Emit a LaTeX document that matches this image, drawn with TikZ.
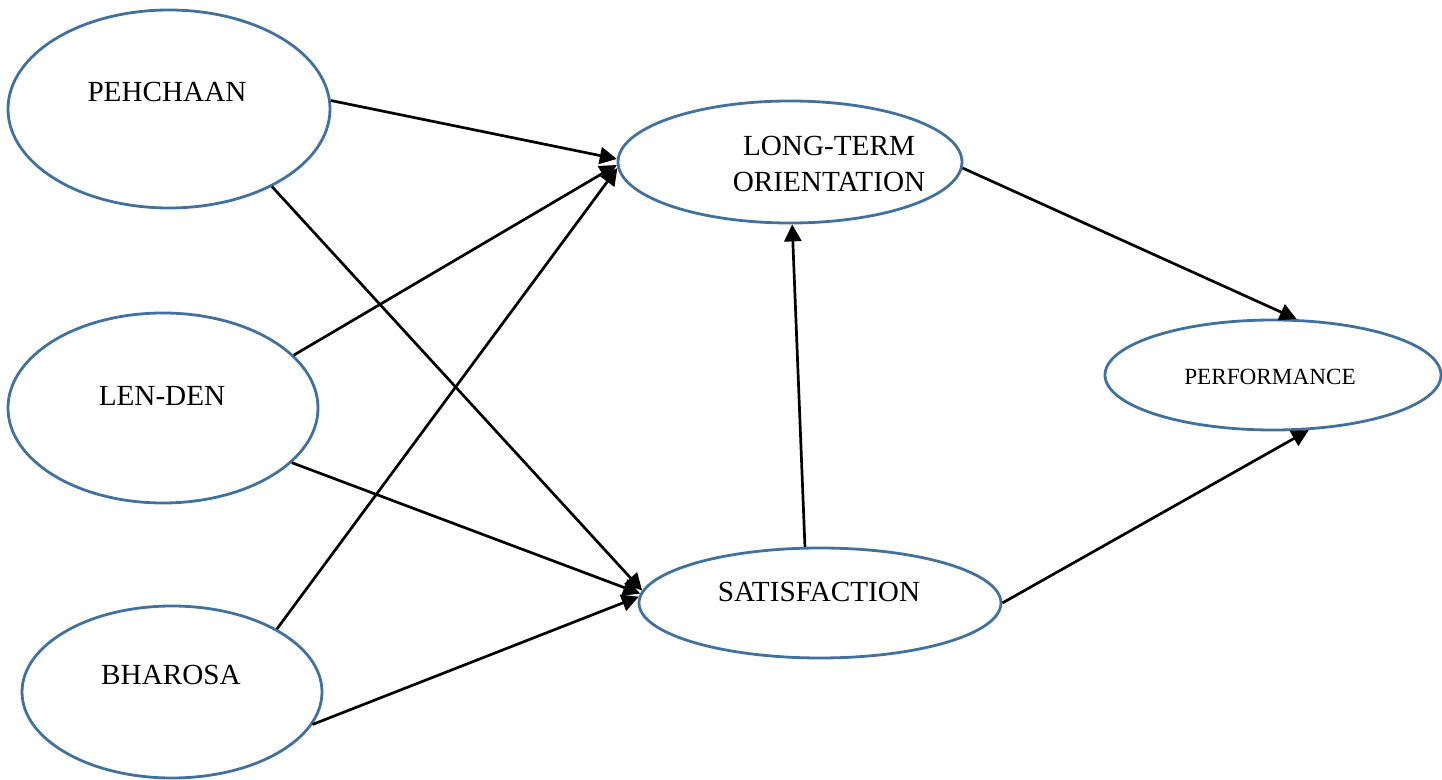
\documentclass[tikz,border=0pt]{standalone}
\usepackage{fontspec}
\setmainfont{Liberation Serif}
\usetikzlibrary{arrows.meta, shapes.geometric, positioning}
\definecolor{wdBlue}{HTML}{41719C}
\tikzset{
  construct/.style = {ellipse, draw=wdBlue, line width=1.4pt, inner sep=0pt},
  link/.style      = {-{Triangle[length=8.5pt, width=8.5pt]}, line width=1.35pt, black},
  lbl/.style       = {font=\fontsize{14.6}{18}\selectfont, align=center, inner sep=0pt},
  slbl/.style      = {font=\fontsize{11.6}{14}\selectfont, inner sep=0pt},
}

\begin{document}
\begin{tikzpicture}[x=0.5pt,y=-0.5pt]
  \useasboundingbox (0,0) rectangle (1442,780);
  % constructs
  \node[construct, minimum width=161pt, minimum height=99pt] (pe)   at (169,109) {};
  \node[construct, minimum width=155pt, minimum height=95pt] (ld)   at (163,408) {};
  \node[construct, minimum width=150pt, minimum height=86pt] (bh)   at (172,692) {};
  \node[construct, minimum width=172pt, minimum height=61pt] (lto)  at (790,162) {};
  \node[construct, minimum width=181pt, minimum height=55pt] (sat)  at (820,603) {};
  \node[construct, minimum width=168pt, minimum height=55pt] (perf) at (1273,375) {};
  % labels
  \node[lbl]  (pe-t)   at (167,92)  {PEHCHAAN};
  \node[lbl]  (ld-t)   at (162,396) {LEN-DEN};
  \node[lbl]  (bh-t)   at (171,675) {BHAROSA};
  \node[lbl]  (lto-t)  at (829,164) {LONG-TERM\\ORIENTATION};
  \node[lbl]  (sat-t)  at (819,592) {SATISFACTION};
  \node[slbl] (perf-t) at (1270,377) {PERFORMANCE};
  % paths
  \draw[link] (pe.3)   -- (lto.179);
  \draw[link] (pe.-37) -- (sat.176);
  \draw[link] (ld.22)  -- (lto.181);
  \draw[link] (ld.-23) -- (sat.177);
  \draw[link] (bh.31)  -- (lto.182);
  \draw[link] (bh.-13) -- (sat.178);
  \draw[link] (sat.105) -- (lto.-88);
  \draw[link] (lto.-2) -- (perf.67);
  \draw[link] (sat.0)  -- (perf.-57);
\end{tikzpicture}
\end{document}
